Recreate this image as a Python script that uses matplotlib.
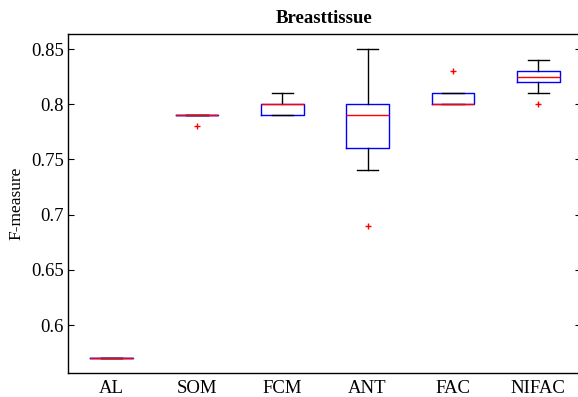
import matplotlib.pyplot as plt

plt.rcParams['font.family'] = ['Liberation Serif', 'DejaVu Serif']

methods = ["AL", "SOM", "FCM", "ANT", "FAC", "NIFAC"]
q1 = [0.57, 0.79, 0.79, 0.76, 0.80, 0.82]
median = [0.57, 0.79, 0.80, 0.79, 0.80, 0.825]
q3 = [0.57, 0.79, 0.80, 0.80, 0.81, 0.83]
whisker_low = [0.57, 0.79, 0.79, 0.74, 0.80, 0.81]
whisker_high = [0.57, 0.79, 0.81, 0.85, 0.81, 0.84]
outliers = [[], [0.78], [], [0.69], [0.83], [0.80]]

stats = []
for i in range(len(methods)):
    stats.append(dict(label=methods[i], q1=q1[i], med=median[i], q3=q3[i],
                      whislo=whisker_low[i], whishi=whisker_high[i],
                      fliers=outliers[i]))

fig = plt.figure(figsize=(5.78, 3.97), dpi=100)
ax = fig.add_axes([68 / 578, 24 / 397, 513 / 578, 339 / 397])

ax.bxp(stats, positions=range(1, len(methods) + 1), widths=0.5,
       capwidths=0.25, showfliers=True,
       boxprops=dict(color="#0000ff", linewidth=1.0),
       medianprops=dict(color="#ff0000", linewidth=1.0),
       whiskerprops=dict(color="black", linewidth=1.0),
       capprops=dict(color="black", linewidth=1.0),
       flierprops=dict(marker="+", markeredgecolor="#ff0000",
                       markersize=4, markeredgewidth=1.0))

ax.set_xlim(0.49, 6.5)
ax.set_ylim(0.5566, 0.8636)
ax.set_yticks([0.6, 0.65, 0.7, 0.75, 0.8, 0.85])
ax.set_yticklabels(["0.6", "0.65", "0.7", "0.75", "0.8", "0.85"])
ax.tick_params(axis="y", direction="in", length=4, right=True,
               labelsize=13.5, pad=3)
ax.tick_params(axis="x", length=0, labelsize=13.5, pad=5)
for s in ax.spines.values():
    s.set_linewidth(1.0)

ax.set_title("Breasttissue", fontsize=13.5, fontweight="bold", pad=8)
ax.set_ylabel("F-measure", fontsize=12.5, labelpad=5)

fig.savefig("out.png", dpi=100)
